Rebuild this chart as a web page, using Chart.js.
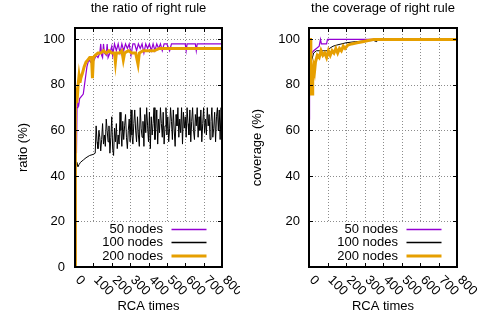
<!DOCTYPE html>
<html lang="en">
<head>
<meta charset="UTF-8">
<title>Right rule: ratio and coverage</title>
<script src="https://cdn.jsdelivr.net/npm/chart.js"></script>
<style>
  body { margin: 0; background: #fff; }
  #wrap { position: relative; width: 481px; height: 320px; }
  canvas { position: absolute; top: 0; }
  #ratioChart { left: 0; }
  #coverageChart { left: 240px; }
</style>
</head>
<body>
<div id="wrap">
  <canvas id="ratioChart" width="240" height="320"></canvas>
  <canvas id="coverageChart" width="241" height="320"></canvas>
</div>
<script>
// series names + x tick labels
const seriesNames = ['50 nodes', '100 nodes', '200 nodes'];
const xTickLabels = ['0', '100', '200', '300', '400', '500', '600', '700', '800'];

// left: ratio of right rule (%)
const ratioX50 = [0,3,5,8,11,15,20,25,35,45,55,65,75,85,95,105,115,125,135,140,145,150,155,160,170,175,180,190,200,205,215,225,235,245,255,265,275,285,295,305,315,325,335,345,355,365,375,385,395,405,415,425,435,445,455,465,475,485,500,515,525,600,605,610,655,660,665,800];
const ratioY50 = [3,40,55,50,70,72,71,74,75,76,82,88,91,90,92,91,93,92,94,98,93,92,98,94,93,98,92,94,97,93,98,95,98,94,98,95,98,96,98,93,98,98,95,98,96,98,94,98,96,98,95,98,95,98,96,98,95,98,98,95,98,98,95,98,98,95,98,98];

const ratioX100 = [0,2,6,10,16,22,30,45,60,80,100,110,
  115,120,125,130,135,140,145,150,155,160,165,170,175,180,185,190,195,200,205,210,
  215,220,225,230,235,240,245,250,255,260,265,270,275,280,285,290,295,300,305,310,
  315,320,325,330,335,340,345,350,355,360,365,370,375,380,385,390,395,400,405,410,
  415,420,425,430,435,440,445,450,455,460,465,470,475,480,485,490,495,500,505,510,
  515,520,525,530,535,540,545,550,555,560,565,570,575,580,585,590,595,600,605,610,
  615,620,625,630,635,640,645,650,655,660,665,670,675,680,685,690,695,700,705,710,
  715,720,725,730,735,740,745,750,755,760,765,770,775,780,785,790,795,800];
const ratioY100 = [0,44,45,46,44,45,46,47,48,49,49.5,50,
  62,55,52,60,57,51,56,63,54,58,53,65,60,55,62,50,57,66,52,49,
  61,55,63,52,58,54,68,60,53,64,56,62,67,57,52,60,65,55,69,58,
  54,63,69,60,55,66,58,53,70,61,57,64,53,67,59,70,62,55,68,52,
  66,58,63,70,56,61,69,54,65,59,70,63,57,68,54,62,70,58,66,55,
  61,70,64,56,69,60,53,67,62,70,57,65,59,70,54,68,61,66,57,70,
  63,58,69,55,64,70,60,56,67,62,70,57,66,60,69,55,63,70,59,65,
  58,70,62,67,56,64,70,57,61,68,55,66,70,60,69,56,70,62];

const ratioX200 = [0,2,6,9,13,17,22,27,32,40,50,60,70,80,90,95,100,110,125,140,155,170,185,200,215,220,225,240,255,263,270,290,310,330,343,350,370,400,430,460,800];
const ratioY200 = [0,78,77,72,75,80,84,81,83,85,88,90,91,92,92,83,92,93,94,94,95,94,95,94,94,90,94,94,95,91,94,95,94,94,89,94,95,95,95,96,96];

// right: coverage of right rule (%)
const coverX50 = [0,2,4,8,15,25,40,55,62,67,75,85,95,100,800];
const coverY50 = [65,82,86,90,94,95,96,97,100,98,98,98,98,100,100];

const coverX100 = [0,3,8,15,25,40,60,80,100,110,130,150,200,250,300,350,366,370,800];
const coverY100 = [75,84,88,91,94,95,95,95,95,96,97,97.5,98.5,99,99.3,99.5,99,100,100];

const coverX200 = [0,8,10,17,20,25,30,35,45,55,65,75,85,95,105,115,125,135,145,155,165,175,185,195,210,230,260,290,320,350,800];
const coverY200 = [100,100,76,76,85,88,86,90,93,92,95,93,94,92,95,93,95,94,96,94,96,95,97,96,97.5,98,98.5,99,99.5,100,100];

const FONT = 'Liberation Sans, Arial, sans-serif';
Chart.defaults.font.family = FONT;
Chart.defaults.font.size = 13;
Chart.defaults.color = '#000';

const pts = (xs, ys) => xs.map((x, i) => ({x: x, y: ys[i]}));

// grid, frame, inward ticks, slanted x labels, boxed key
const framePlugin = {
  id: 'frame',
  beforeDatasetsDraw(chart) {
    const {ctx, chartArea: a, scales: {x, y}} = chart;
    ctx.save();
    ctx.strokeStyle = '#8c8c8c';
    ctx.lineWidth = 1;
    ctx.setLineDash([1, 2]);
    ctx.beginPath();
    y.ticks.forEach(t => {
      if (t.value <= 0) return;
      const py = Math.round(y.getPixelForValue(t.value)) + 0.5;
      ctx.moveTo(a.left, py); ctx.lineTo(a.right, py);
    });
    xTickLabels.forEach(l => {
      const v = Number(l);
      if (v <= 0 || v >= 800) return;
      const px = Math.round(x.getPixelForValue(v)) + 0.5;
      ctx.moveTo(px, a.top); ctx.lineTo(px, a.bottom);
    });
    ctx.stroke();
    ctx.restore();
  },
  afterDatasetsDraw(chart) {
    const {ctx, chartArea: a, scales: {x, y}} = chart;
    ctx.save();

    // key
    const sets = chart.data.datasets;
    ctx.font = '13px ' + FONT;
    const lineEnd = a.right - 15.5;
    const lineStart = lineEnd - 35;
    const textRight = lineStart - 8.5;
    const widest = Math.max(...sets.map(d => ctx.measureText(d.label).width));
    const boxLeft = textRight - widest - 12;
    ctx.fillStyle = '#fff';
    ctx.fillRect(boxLeft, a.bottom - 44, a.right - 2 - boxLeft, 44);
    const rowOff = [37.5, 24.5, 11];
    sets.forEach((d, i) => {
      const ry = a.bottom - rowOff[i];
      ctx.fillStyle = '#000';
      ctx.textAlign = 'right';
      ctx.textBaseline = 'middle';
      ctx.fillText(d.label, textRight, ry);
      ctx.strokeStyle = d.borderColor;
      ctx.lineWidth = Math.max(1.5, d.borderWidth);
      ctx.beginPath();
      ctx.moveTo(lineStart, ry); ctx.lineTo(lineEnd, ry);
      ctx.stroke();
    });

    // ticks
    ctx.strokeStyle = '#000';
    ctx.lineWidth = 1;
    ctx.beginPath();
    y.ticks.forEach(t => {
      const py = Math.round(y.getPixelForValue(t.value)) + 0.5;
      ctx.moveTo(a.left, py); ctx.lineTo(a.left + 4, py);
      ctx.moveTo(a.right, py); ctx.lineTo(a.right - 4, py);
    });
    xTickLabels.forEach(l => {
      const px = Math.round(x.getPixelForValue(Number(l))) + 0.5;
      ctx.moveTo(px, a.bottom); ctx.lineTo(px, a.bottom - 4);
      ctx.moveTo(px, a.top); ctx.lineTo(px, a.top + 4);
    });
    ctx.stroke();

    // border
    ctx.lineWidth = 2;
    ctx.strokeRect(a.left, a.top, a.right - a.left, a.bottom - a.top);

    // x labels, rotated -45 like gnuplot
    ctx.fillStyle = '#000';
    ctx.textAlign = 'left';
    ctx.textBaseline = 'middle';
    xTickLabels.forEach(l => {
      const px = x.getPixelForValue(Number(l));
      ctx.save();
      ctx.translate(px + 2.5, a.bottom + 11);
      ctx.rotate(Math.PI / 4);
      ctx.fillText(l, 0, 0);
      ctx.restore();
    });
    ctx.restore();
  }
};

const makeChart = (id, title, yTitle, series, cfg) => new Chart(document.getElementById(id), {
  type: 'line',
  data: {
    datasets: [
      {label: seriesNames[0], data: series[0], borderColor: '#9400d3', borderWidth: 1.2, order: 3},
      {label: seriesNames[1], data: series[1], borderColor: '#000000', borderWidth: 1, order: 2},
      {label: seriesNames[2], data: series[2], borderColor: '#e69f00', borderWidth: 3, order: 1}
    ]
  },
  options: {
    responsive: false,
    animation: false,
    devicePixelRatio: 1,
    elements: {point: {radius: 0}, line: {tension: 0}},
    layout: {padding: {left: 0, right: cfg.padRight, top: 0, bottom: 0}},
    plugins: {
      legend: {display: false},
      tooltip: {enabled: false},
      title: {
        display: true, text: title, color: '#000', fullSize: false,
        font: {size: 13, weight: 'normal'},
        padding: {top: 1, bottom: 11.4}
      }
    },
    scales: {
      x: {
        type: 'linear', min: 0, max: 800,
        ticks: {display: false, stepSize: 100},
        grid: {display: false, drawTicks: false},
        border: {display: false},
        title: {display: true, text: 'RCA times', font: {size: 13}, padding: {top: 0, bottom: 5.7}},
        afterFit: s => { s.height = 53; }
      },
      y: {
        min: 0, max: 105,
        ticks: {
          stepSize: 20, includeBounds: false, padding: cfg.tickPad,
          callback: v => (cfg.hideZero && v === 0) ? '' : String(v)
        },
        grid: {display: false, drawTicks: false},
        border: {display: false},
        title: {display: true, text: yTitle, font: {size: 13}, padding: {top: cfg.titlePad, bottom: 0}},
        afterFit: s => { s.width = cfg.left; }
      }
    }
  },
  plugins: [framePlugin]
});

makeChart('ratioChart', 'the ratio of right rule', 'ratio (%)',
  [pts(ratioX50, ratioY50), pts(ratioX100, ratioY100), pts(ratioX200, ratioY200)],
  {left: 75, padRight: 18, tickPad: 10, titlePad: 15.2, hideZero: false});

makeChart('coverageChart', 'the coverage of right rule', 'coverage (%)',
  [pts(coverX50, coverY50), pts(coverX100, coverY100), pts(coverX200, coverY200)],
  {left: 69, padRight: 24, tickPad: 9, titlePad: 9.7, hideZero: true});
</script>
</body>
</html>
